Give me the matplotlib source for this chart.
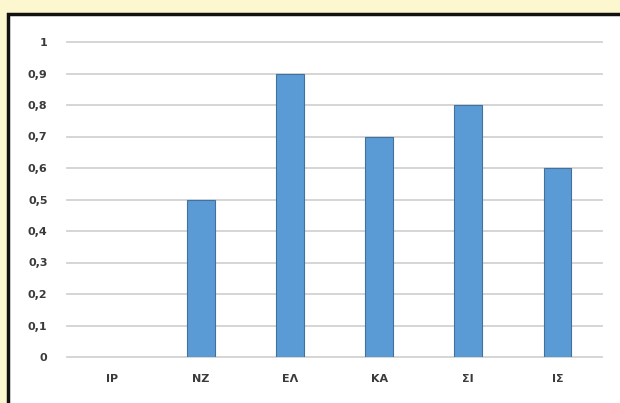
import matplotlib
matplotlib.use("Agg")
import matplotlib.pyplot as plt
from matplotlib.patches import Rectangle
from matplotlib.ticker import FuncFormatter

categories = ["ΙΡ", "ΝΖ", "ΕΛ", "ΚΑ", "ΣΙ", "ΙΣ"]
values = [0, 0.5, 0.9, 0.7, 0.8, 0.6]
y_ticks = [0, 0.1, 0.2, 0.3, 0.4, 0.5, 0.6, 0.7, 0.8, 0.9, 1]

W, H = 620, 403
fig = plt.figure(figsize=(W / 100, H / 100), dpi=100)
fig.patch.set_facecolor("#fdf7cf")

# white panel with black frame (runs off the right/bottom edge)
fig.patches.append(Rectangle((8 / W, -0.05), 1.05, 1 - 14 / H + 0.05,
                             transform=fig.transFigure, facecolor="white",
                             edgecolor="#111111", linewidth=2.5, zorder=-1))

ax = fig.add_axes([67 / W, 1 - 357 / H, (602 - 67) / W, (357 - 42) / H])
ax.set_zorder(2)
ax.set_facecolor("none")

x = range(len(categories))
ax.bar(x, values, width=0.31, color="#5b9bd5",
       edgecolor=["none" if v == 0 else "#41719c" for v in values],
       linewidth=0.8, zorder=3)

ax.set_xlim(-0.5, len(categories) - 0.5)
ax.set_ylim(0, 1)
ax.set_yticks(y_ticks)
ax.yaxis.set_major_formatter(FuncFormatter(lambda v, p: f"{v:g}".replace(".", ",")))
ax.set_xticks(list(x))
ax.set_xticklabels(categories)
ax.grid(axis="y", color="#d2d2d2", linewidth=1.3, zorder=0)
for gl in ax.get_ygridlines():
    gl.set_clip_on(False)
for s in ax.spines.values():
    s.set_visible(False)
ax.tick_params(length=0, labelsize=8, colors="#3a3a3a")
ax.tick_params(axis="y", pad=14)
ax.tick_params(axis="x", pad=12)
for lbl in ax.get_xticklabels() + ax.get_yticklabels():
    lbl.set_fontweight("semibold")

fig.savefig("out.png", dpi=100, facecolor=fig.get_facecolor())
